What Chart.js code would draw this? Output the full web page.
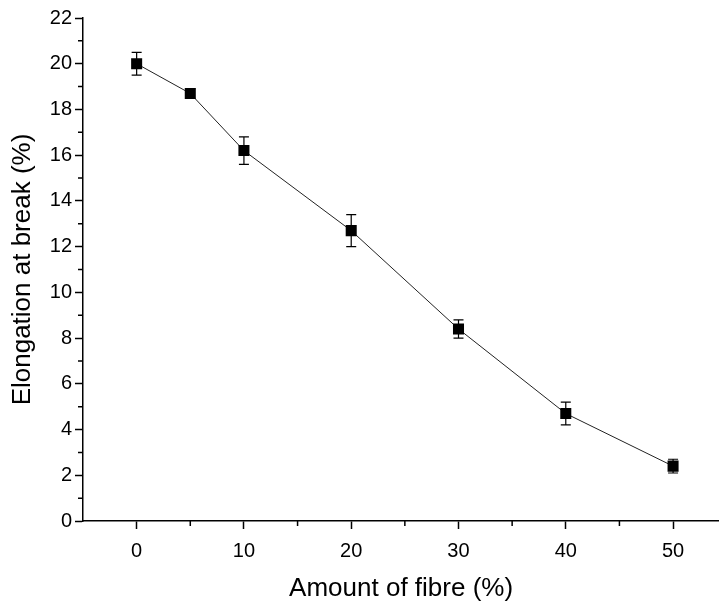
<!DOCTYPE html>
<html>
<head>
<meta charset="utf-8">
<script src="https://cdn.jsdelivr.net/npm/chart.js@4.4.1/dist/chart.umd.min.js"></script>
<style>
  html, body { margin: 0; padding: 0; background: #fff; overflow: hidden; }
  #wrap { position: absolute; left: 0; top: 0; width: 727px; height: 606px; }
</style>
</head>
<body>
<div id="wrap"><canvas id="chart" width="727" height="606"></canvas></div>
<script>
// data
const fibreAmount = [0, 5, 10, 20, 30, 40, 50];
const elongation = [20.0, 18.7, 16.2, 12.7, 8.4, 4.7, 2.4];
const elongationError = [0.5, 0.2, 0.6, 0.7, 0.4, 0.5, 0.3];

const xTickValues = [0, 10, 20, 30, 40, 50];
const xMinorTicks = [5, 15, 25, 35, 45];
const yMinorTicks = [1, 3, 5, 7, 9, 11, 13, 15, 17, 19, 21];

const FONT = "'Liberation Sans', Arial, Helvetica, sans-serif";

// error bars, drawn under the markers
const errorBars = {
  id: "errorBars",
  beforeDatasetsDraw(chart) {
    const { ctx, scales: { x, y } } = chart;
    ctx.save();
    ctx.strokeStyle = "#000";
    ctx.lineWidth = 1.2;
    fibreAmount.forEach((fx, i) => {
      const px = x.getPixelForValue(fx);
      const top = y.getPixelForValue(elongation[i] + elongationError[i]);
      const bot = y.getPixelForValue(elongation[i] - elongationError[i]);
      ctx.beginPath();
      ctx.moveTo(px, top); ctx.lineTo(px, bot);
      ctx.moveTo(px - 5, top); ctx.lineTo(px + 5, top);
      ctx.moveTo(px - 5, bot); ctx.lineTo(px + 5, bot);
      ctx.stroke();
    });
    ctx.restore();
  },
};

// short minor ticks on both axes
const minorTicks = {
  id: "minorTicks",
  afterDraw(chart) {
    const { ctx, chartArea, scales: { x, y } } = chart;
    ctx.save();
    ctx.strokeStyle = "#000";
    ctx.lineWidth = 1.5;
    ctx.beginPath();
    yMinorTicks.forEach((v) => {
      const py = y.getPixelForValue(v);
      ctx.moveTo(chartArea.left - 5, py);
      ctx.lineTo(chartArea.left, py);
    });
    xMinorTicks.forEach((v) => {
      const px = x.getPixelForValue(v);
      ctx.moveTo(px, chartArea.bottom);
      ctx.lineTo(px, chartArea.bottom + 5);
    });
    ctx.stroke();
    ctx.restore();
  },
};

new Chart(document.getElementById("chart"), {
  type: "line",
  data: {
    datasets: [
      {
        data: fibreAmount.map((fx, i) => ({ x: fx, y: elongation[i] })),
        borderColor: "#222",
        borderWidth: 1,
        pointStyle: "rect",
        pointRadius: 7.8,
        pointBackgroundColor: "#000",
        pointBorderWidth: 0,
        tension: 0,
      },
    ],
  },
  options: {
    responsive: false,
    animation: false,
    layout: { padding: { top: 18, right: 0, left: 0, bottom: 0 } },
    plugins: { legend: { display: false }, tooltip: { enabled: false } },
    scales: {
      x: {
        type: "linear",
        min: -5,
        max: 54.3,
        afterBuildTicks: (scale) => {
          scale.ticks = xTickValues.map((v) => ({ value: v }));
        },
        afterFit: (scale) => { scale.height = 85; },
        grid: { drawOnChartArea: false, tickLength: 8, tickWidth: 1.5, tickColor: "#000" },
        border: { color: "#000", width: 1.5 },
        ticks: { color: "#000", padding: 10, font: { family: FONT, size: 20 } },
        title: {
          display: true,
          text: "Amount of fibre (%)",
          color: "#000",
          font: { family: FONT, size: 26 },
          padding: { top: 0, bottom: 2 },
        },
      },
      y: {
        min: 0,
        max: 22,
        afterFit: (scale) => { scale.width = 83; },
        grid: { drawOnChartArea: false, tickLength: 8, tickWidth: 1.5, tickColor: "#000" },
        border: { color: "#000", width: 1.5 },
        ticks: { stepSize: 2, color: "#000", padding: 3, font: { family: FONT, size: 20 } },
        title: {
          display: true,
          text: "Elongation at break (%)",
          color: "#000",
          font: { family: FONT, size: 26 },
          padding: { top: 7, bottom: 0 },
        },
      },
    },
  },
  plugins: [errorBars, minorTicks],
});
</script>
</body>
</html>
